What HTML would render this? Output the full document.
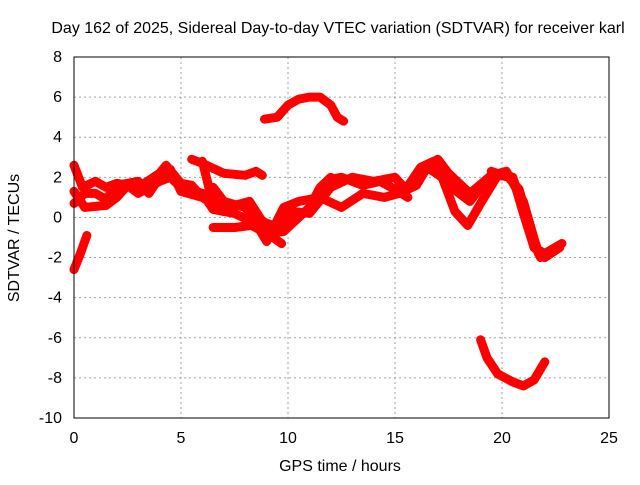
<!DOCTYPE html>
<html><head><meta charset="utf-8"><style>
body{margin:0;background:#fff}
svg text{font-family:"Liberation Sans",sans-serif;font-size:16px;fill:#000}
</style></head><body>
<svg id="chart" width="640" height="480">
<rect width="640" height="480" fill="#fff"/>
<text x="338" y="33" text-anchor="middle">Day 162 of 2025, Sidereal Day-to-day VTEC variation (SDTVAR) for receiver karl</text>
<text x="340" y="471" text-anchor="middle">GPS time / hours</text>
<text transform="translate(19,238) rotate(-90)" text-anchor="middle">SDTVAR / TECUs</text>
<g id="grid"></g><g id="ticks"></g><g id="series"></g>
<rect x="74" y="57" width="535" height="361" fill="none" stroke="#000" stroke-width="1"/>
</svg>
<script>
const xTicks=[0,5,10,15,20,25];
const yTicks=[-10,-8,-6,-4,-2,0,2,4,6,8];
const s1=[[0,2.6],[0.4,1.5],[1,1.8],[1.5,1.5],[2,1.7],[3,1.5],[4,2.2],[4.3,2.6],[5,1.7],[5.5,1.6],[6,1.0],[6.5,1.5],[7,0.8],[8,0.5],[8.6,-0.3],[9.3,-1.0],[9.7,-1.3]];
const s2=[[0,0.7],[0.5,1.2],[1,1.2],[1.5,0.9],[2,1.6],[3,1.8],[3.5,1.2],[4,2.0],[4.5,2.4],[5,1.3],[6,1.0],[7,0.3],[7.5,0.6],[8.2,0.8],[8.8,-0.2],[9.5,-0.5],[10.2,0.3],[11,0.2],[12,1.5],[13,2.0],[14,1.8],[15,2.0],[15.5,1.4],[16.2,2.5],[16.8,2.8],[17.5,1.6],[18.5,0.8],[19,1.5],[20,2.2],[20.5,2.0],[21,0.5],[21.5,-1.5],[22,-2.0],[22.7,-1.5]];
const s3=[[0,1.3],[0.5,0.5],[1.5,0.6],[2,1.0],[2.5,1.6],[3,1.2],[4,1.8],[4.5,2.0],[5,1.5],[6,1.2],[6.5,0.4],[7.5,0.2],[8.5,-0.3],[9,-1.2],[9.8,0.5],[10.5,0.8],[11.5,1.0],[12.5,0.5],[13.5,1.2],[14.5,1.0],[15.2,1.2],[16,1.6],[16.5,2.5],[17.2,2.0],[17.8,0.3],[18.4,-0.4],[19,0.7],[19.8,2.1],[20.5,2.0],[21,0.2],[21.5,-1.5],[22,-1.8],[22.8,-1.3]];
const s4=[[5.5,2.9],[6,2.7],[7,2.2],[8,2.1],[8.5,2.3],[8.8,2.1]];
const s4b=[[6,2.8],[6.3,1.5],[6.8,0.6]];
const s5=[[6.5,-0.5],[7.5,-0.5],[8.3,-0.4],[9,-0.8],[9.8,-0.7],[10.5,0],[11,0.5],[11.5,1.5],[12,2.0]];
const s6=[[8.9,4.9],[9.5,5.0],[10,5.6],[10.5,5.9],[11,6.0],[11.5,6.0],[12,5.6],[12.3,5.0],[12.6,4.8]];
const s7=[[0,-2.6],[0.3,-1.8],[0.6,-0.9]];
const s8=[[19,-6.1],[19.3,-7.0],[19.8,-7.8],[20.5,-8.2],[21,-8.4],[21.5,-8.1],[22,-7.2]];
const s9=[[16.3,2.4],[17,2.9],[17.5,2.2],[18.5,1.2],[19.5,2.1],[20.2,2.3],[21,0.8],[21.7,-1.8]];
const s10=[[19.5,2.3],[20.3,2.0],[20.8,1.4],[21.3,-0.5],[21.8,-2.0],[22.4,-1.7]];
const s11=[[12,1.9],[12.5,2.0],[13.5,1.6],[14.3,1.8],[15,1.4],[15.6,1.0]];
const allSeries=[s1,s2,s3,s4,s4b,s5,s6,s7,s8,s9,s10,s11];
const X=h=>74+h*535/25, Y=v=>418-(v+10)*361/18;
const NS="http://www.w3.org/2000/svg";
const g=document.getElementById('grid'),t=document.getElementById('ticks'),sg=document.getElementById('series');
function mk(tag,at,parent){const e=document.createElementNS(NS,tag);for(const k in at)e.setAttribute(k,at[k]);parent.appendChild(e);return e;}
xTicks.forEach(v=>{
  if(v>0&&v<25){const l=mk('line',{x1:X(v),x2:X(v),y1:57,y2:418,stroke:'#a0a0a0','stroke-dasharray':'2,3'},g);
  
  }
  const tx=mk('text',{x:X(v),y:443,'text-anchor':'middle'},t);tx.textContent=v;
  
  
});
yTicks.forEach(v=>{
  if(v>-10&&v<8){const l=mk('line',{x1:74,x2:609,y1:Y(v),y2:Y(v),stroke:'#a0a0a0','stroke-dasharray':'2,3'},g);
  
  }
  const tx=mk('text',{x:62,y:Y(v)+5,'text-anchor':'end'},t);tx.textContent=v;
  
  
});
allSeries.forEach(s=>{
  const p=mk('polyline',{points:s.map(d=>X(d[0])+','+Y(d[1])).join(' '),fill:'none',stroke:'#ff0000','stroke-width':9,'stroke-linejoin':'round','stroke-linecap':'round'},sg);
  
  
});
</script>
</body></html>
